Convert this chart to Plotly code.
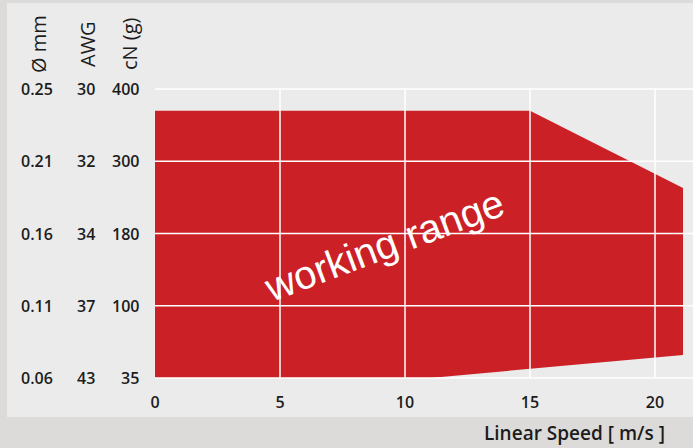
import plotly.graph_objects as go

# ---- data ----
speed = [0, 15, 21.12, 21.12, 11.0, 0]          # m/s, polygon outline
level = [3.70, 3.70, 2.63, 0.32, 0.0, 0.0]      # position on the category scale
level_pos = [0, 1, 2, 3, 4]
cn_labels = ["35", "100", "180", "300", "400"]
awg_labels = ["43", "37", "34", "32", "30"]
dia_labels = ["0.06", "0.11", "0.16", "0.21", "0.25"]
x_ticks = [0, 5, 10, 15, 20]
x_grid = [5, 10, 15, 20]

RED = "#cc2027"
PANEL = "#ebebeb"
OUTER = "#dcdbd9"
TXT = "#1c1c1c"
FONT = "Open Sans"

W, H = 693, 448
L, R, T, B = 155, 0, 85, 66
pw, ph = W - L - R, H - T - B
pad = 4 / 72.25


def px_x(p):
    return (p - L) / pw


def px_y(p):
    return (H - B - p) / ph


fig = go.Figure()
fig.add_trace(go.Scatter(x=speed, y=level, fill="toself", fillcolor=RED,
                         mode="lines", line=dict(width=0, color=RED),
                         hoverinfo="skip", showlegend=False))

shapes = [dict(type="rect", xref="paper", yref="paper",
               x0=px_x(7), x1=1.05, y0=px_y(417), y1=px_y(3),
               fillcolor=PANEL, line=dict(width=0), layer="below")]
for lv in level_pos:
    shapes.append(dict(type="line", xref="paper", yref="y", x0=0, x1=1,
                       y0=lv, y1=lv, line=dict(color="white", width=1.5),
                       layer="above"))
for xv in x_grid:
    shapes.append(dict(type="line", xref="x", yref="y", x0=xv, x1=xv,
                       y0=0, y1=4, line=dict(color="white", width=1.5),
                       layer="above"))

tick_font = dict(family=FONT, size=16, color=TXT, weight=600)
ann = []
for lv, d, a, c in zip(level_pos, dia_labels, awg_labels, cn_labels):
    ann.append(dict(x=px_x(19), y=lv, xref="paper", yref="y", text=d,
                    xanchor="left", yanchor="middle", showarrow=False, font=tick_font))
    ann.append(dict(x=px_x(86), y=lv, xref="paper", yref="y", text=a,
                    xanchor="center", yanchor="middle", showarrow=False, font=tick_font))
    ann.append(dict(x=px_x(141), y=lv, xref="paper", yref="y", text=c,
                    xanchor="right", yanchor="middle", showarrow=False, font=tick_font))

head_font = dict(family=FONT, size=20, color=TXT)
for cx, t in [(38, "Ø mm"), (87, "AWG"), (129, "cN (g)")]:
    ann.append(dict(x=px_x(cx), y=px_y(44), xref="paper", yref="paper", text=t,
                    textangle=-90, xanchor="center", yanchor="middle",
                    showarrow=False, font=head_font))

ann.append(dict(x=px_x(667), y=px_y(433), xref="paper", yref="paper",
                text="Linear Speed [ m/s ]", xanchor="right", yanchor="middle",
                showarrow=False, font=dict(family=FONT, size=19, color=TXT, weight=600)))

ann.append(dict(x=9.16, y=1.84, xref="x", yref="y", text="working range",
                textangle=-20.5, xanchor="center", yanchor="middle", showarrow=False,
                font=dict(family="Liberation Sans", size=40, color="white")))

fig.update_layout(
    width=W, height=H,
    margin=dict(l=L, r=R, t=T, b=B, pad=0),
    paper_bgcolor=OUTER, plot_bgcolor="rgba(0,0,0,0)",
    shapes=shapes, annotations=ann,
    xaxis=dict(range=[0, pw / 25], tickvals=x_ticks, ticktext=[str(v) for v in x_ticks],
               showgrid=False, zeroline=False, showline=False, ticks="",
               tickfont=tick_font, fixedrange=True, ticklabelstandoff=9),
    yaxis=dict(range=[-pad, 4 + pad], showticklabels=False, showgrid=False,
               zeroline=False, showline=False, ticks="", fixedrange=True),
    showlegend=False,
)

fig.write_html("out.html", config={"displayModeBar": False},
               post_script="document.body.style.margin='0';document.body.style.overflow='hidden';")
